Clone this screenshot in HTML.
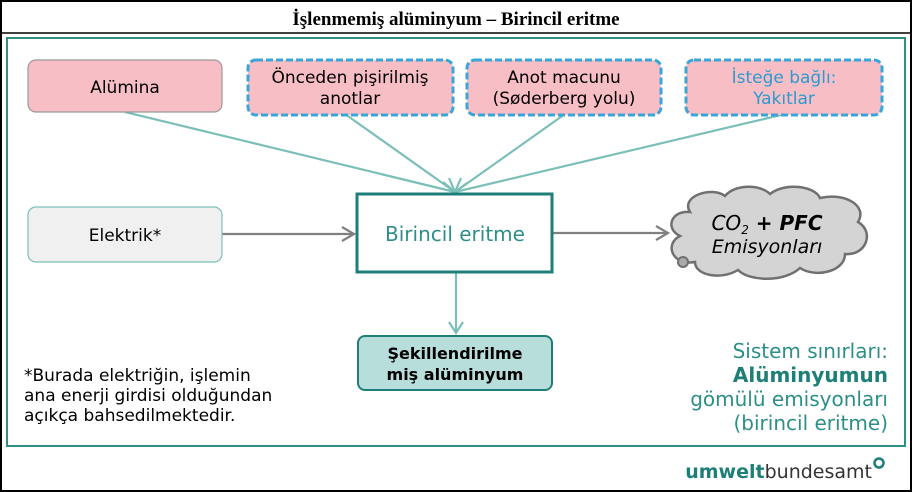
<!DOCTYPE html>
<html><head><meta charset="utf-8"><style>
body{margin:0;background:#fff}
svg{display:block}
text{font-family:"DejaVu Sans","Liberation Sans",sans-serif}
</style></head><body>
<svg width="912" height="492" viewBox="0 0 912 492" xmlns="http://www.w3.org/2000/svg">
<rect x="1" y="1" width="910" height="490" fill="#fff" stroke="#000" stroke-width="2"/>
<line x1="1" y1="33" x2="911" y2="33" stroke="#000" stroke-width="1.5"/>
<text x="456" y="25" text-anchor="middle" style="font-family:'Liberation Serif',serif;font-weight:bold;font-size:19px">İşlenmemiş alüminyum – Birincil eritme</text>
<rect x="7" y="38" width="898" height="408" fill="none" stroke="#2e8f88" stroke-width="2"/>
<g stroke="#7bbfb8" stroke-width="2.2" fill="none">
<line x1="125" y1="112" x2="455" y2="192"/>
<line x1="345" y1="114" x2="455" y2="192"/>
<line x1="565" y1="114" x2="455" y2="192"/>
<line x1="785" y1="114" x2="455" y2="192"/>
<polyline points="443,182 455,192 449,178"/>
<polyline points="461,178 455,192 467,183"/>
<line x1="456" y1="272" x2="456" y2="333"/>
<polyline points="449,322 456,333 463,322"/>
</g>
<g stroke="#808080" stroke-width="2.2" fill="none">
<line x1="222" y1="234" x2="354" y2="234"/>
<polyline points="342,227 354,234 342,241"/>
<line x1="552" y1="233" x2="668" y2="233"/>
<polyline points="656,226 668,233 656,240"/>
</g>
<rect x="28" y="60" width="194" height="52" rx="8" fill="#f8bec6" stroke="#999" stroke-width="1.2"/>
<text x="125" y="93" text-anchor="middle" font-size="17">Alümina</text>
<g fill="#f8bec6" stroke="#3aa6d8" stroke-width="3" stroke-dasharray="7,3">
<rect x="248" y="60" width="205" height="55" rx="8"/>
<rect x="467" y="60" width="194" height="55" rx="8"/>
<rect x="686" y="60" width="196" height="55" rx="8"/>
</g>
<text x="350" y="83" text-anchor="middle" font-size="17">Önceden pişirilmiş</text>
<text x="350" y="104" text-anchor="middle" font-size="17">anotlar</text>
<text x="564" y="83" text-anchor="middle" font-size="17">Anot macunu</text>
<text x="564" y="104" text-anchor="middle" font-size="17">(Søderberg yolu)</text>
<text x="784" y="83" text-anchor="middle" font-size="17" fill="#2a9bd0">İsteğe bağlı:</text>
<text x="784" y="104" text-anchor="middle" font-size="17" fill="#2a9bd0">Yakıtlar</text>
<rect x="28" y="207" width="194" height="55" rx="8" fill="#f0f0f0" stroke="#7bbfb8" stroke-width="1.2"/>
<text x="125" y="241" text-anchor="middle" font-size="17">Elektrik*</text>
<rect x="357" y="194" width="195" height="78" fill="#fff" stroke="#1e7f78" stroke-width="3"/>
<text x="455" y="241" text-anchor="middle" font-size="20" fill="#2e8f88">Birincil eritme</text>
<rect x="358" y="336" width="194" height="54" rx="7" fill="#b8dedb" stroke="#1e7f78" stroke-width="2"/>
<text x="455" y="359" text-anchor="middle" font-size="16" font-weight="bold">Şekillendirilme</text>
<text x="455" y="380" text-anchor="middle" font-size="16" font-weight="bold">miş alüminyum</text>
<path d="M690,212 C680,196 712,186 725,196 C735,184 760,184 770,194 C785,182 815,186 820,198 C845,192 868,206 858,222 C875,232 866,256 845,254 C845,272 815,278 800,268 C785,282 750,282 738,270 C722,280 695,276 695,262 C672,266 664,244 680,236 C664,228 672,210 690,212 Z" fill="#d4d4d4" stroke="#707070" stroke-width="2.5"/>
<circle cx="683" cy="262" r="5" fill="#aaa" stroke="#707070" stroke-width="2"/>
<text x="767" y="230" text-anchor="middle" font-size="20" font-style="italic">CO<tspan font-size="12" dy="4">2</tspan><tspan dy="-4" font-weight="bold"> + PFC</tspan></text>
<text x="767" y="253" text-anchor="middle" font-size="19" font-style="italic">Emisyonları</text>
<text x="24" y="381" font-size="17">*Burada elektriğin, işlemin</text>
<text x="24" y="401" font-size="17">ana enerji girdisi olduğundan</text>
<text x="24" y="421" font-size="17">açıkça bahsedilmektedir.</text>
<g text-anchor="end" font-size="20" fill="#2e8f88">
<text x="888" y="358">Sistem sınırları:</text>
<text x="888" y="382" font-weight="bold" fill="#1e7f78">Alüminyumun</text>
<text x="888" y="406">gömülü emisyonları</text>
<text x="888" y="430">(birincil eritme)</text>
</g>
<text x="872" y="478" text-anchor="end" font-size="19" fill="#1e7f78"><tspan font-weight="bold">umwelt</tspan><tspan fill="#333">bundesamt</tspan></text>
<circle cx="879" cy="463" r="4.5" fill="none" stroke="#1e7f78" stroke-width="2.5"/>
</svg>
</body></html>
